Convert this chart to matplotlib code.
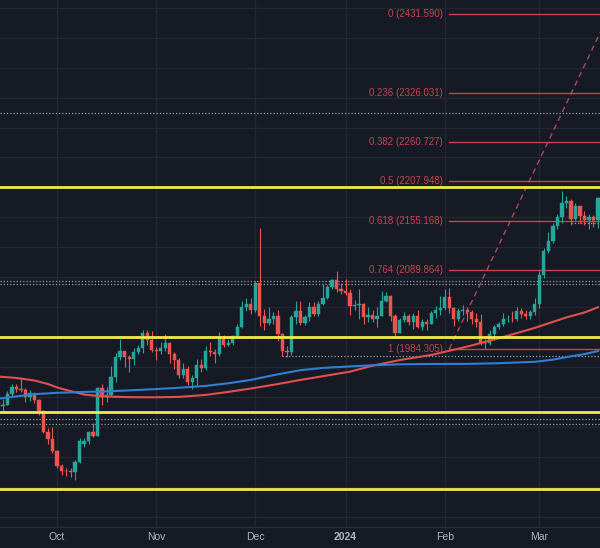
import matplotlib
matplotlib.use("Agg")
import matplotlib.pyplot as plt
import numpy as np
import pandas as pd
from matplotlib.transforms import blended_transform_factory

# ---------------- data (XAU/USD daily) ----------------
opens = [1913, 1908, 1910, 1924, 1934, 1931, 1930, 1920, 1925, 1916, 1901, 1874, 1864,
         1848, 1828, 1822, 1821, 1820, 1833, 1857, 1861, 1874, 1868, 1932, 1920, 1923, 1947,
         1974, 1981, 1973, 1971, 1980, 1985, 2006, 1996,
         1983, 1982, 1985, 1992, 1977, 1969, 1950, 1958, 1940, 1946, 1963, 1959, 1981, 1980,
         1978, 1999, 1990, 1992, 2002, 2014, 2041, 2044,
         2036, 2072, 2029, 2019, 2025, 2028, 2004, 1982, 1980, 2027, 2035, 2019, 2027, 2040,
         2031, 2045, 2053, 2067, 2077, 2065,
         2062, 2059, 2042, 2043, 2045, 2027, 2030, 2024, 2029, 2049, 2055, 2028, 2006, 2023,
         2029, 2021, 2029, 2014, 2020, 2018, 2032, 2037,
         2039, 2054, 2039, 2025, 2035, 2036, 2034, 2024, 2020, 1992, 1992, 2004, 2013, 2017,
         2024, 2025, 2024, 2035, 2031, 2029, 2034,
         2044, 2083, 2115, 2128, 2148, 2160, 2179, 2182, 2158, 2175, 2162, 2156, 2160, 2157]
highs = [1915, 1917, 1928, 1937, 1937, 1947, 1932, 1930, 1926, 1917, 1903, 1879, 1880,
         1849, 1831, 1826, 1825, 1836, 1865, 1866, 1875, 1885, 1933, 1937, 1933, 1962, 1979,
         1997, 1982, 1976, 1985, 1990, 2009, 2009, 2008,
         1987, 1993, 2004, 1993, 1980, 1972, 1965, 1962, 1950, 1971, 1971, 1988, 1993, 1984,
         2007, 2003, 1997, 2003, 2018, 2048, 2052, 2052,
         2075, 2146, 2038, 2040, 2034, 2036, 2006, 1988, 2030, 2048, 2048, 2030, 2047, 2047,
         2048, 2071, 2070, 2078, 2088, 2073,
         2078, 2064, 2050, 2064, 2046, 2040, 2037, 2040, 2062, 2060, 2057, 2031, 2026, 2034,
         2031, 2033, 2037, 2024, 2024, 2035, 2042, 2055,
         2065, 2066, 2040, 2039, 2043, 2041, 2037, 2032, 2031, 1998, 2009, 2016, 2021, 2032,
         2030, 2035, 2041, 2039, 2037, 2037, 2052,
         2088, 2119, 2141, 2153, 2165, 2195, 2189, 2184, 2179, 2175, 2168, 2164, 2163, 2187]
lows = [1905, 1901, 1909, 1921, 1927, 1927, 1913, 1915, 1912, 1896, 1872, 1858, 1846,
        1826, 1816, 1815, 1813, 1810, 1832, 1853, 1858, 1867, 1868, 1909, 1913, 1921, 1940,
        1969, 1960, 1954, 1963, 1977, 1979, 1990, 1980,
        1970, 1978, 1982, 1965, 1957, 1945, 1945, 1936, 1931, 1935, 1953, 1956, 1975, 1965,
        1975, 1987, 1988, 1990, 2001, 2012, 2035, 2031,
        2034, 2015, 2010, 2016, 2017, 1995, 1975, 1973, 1976, 2018, 2016, 2016, 2022, 2028,
        2029, 2043, 2051, 2064, 2061, 2058,
        2057, 2030, 2036, 2024, 2017, 2021, 2021, 2013, 2028, 2047, 2022, 2002, 2005, 2021,
        2016, 2011, 2012, 2009, 2010, 2017, 2026, 2030,
        2036, 2032, 2015, 2022, 2030, 2022, 2018, 2013, 1990, 1984, 1990, 1996, 2011, 2015,
        2020, 2020, 2022, 2026, 2025, 2025, 2030,
        2039, 2079, 2112, 2126, 2144, 2153, 2173, 2150, 2156, 2152, 2150, 2145, 2147, 2146]
closes = [1908, 1910, 1924, 1934, 1931, 1930, 1920, 1925, 1916, 1901, 1874, 1864, 1848,
          1828, 1822, 1821, 1820, 1833, 1861, 1861, 1874, 1868, 1932, 1920, 1923, 1947, 1974,
          1981, 1973, 1971, 1980, 1985, 2006, 1996, 1983,
          1982, 1985, 1992, 1977, 1969, 1950, 1958, 1940, 1946, 1963, 1959, 1981, 1980, 1978,
          1999, 1990, 1992, 2002, 2014, 2041, 2044, 2036,
          2072, 2029, 2019, 2025, 2028, 2004, 1982, 1980, 2027, 2035, 2019, 2027, 2040, 2031,
          2045, 2053, 2067, 2077, 2065, 2062,
          2059, 2042, 2043, 2045, 2027, 2030, 2024, 2029, 2049, 2055, 2028, 2006, 2023, 2029,
          2021, 2029, 2014, 2020, 2018, 2032, 2037, 2039,
          2054, 2039, 2025, 2035, 2036, 2034, 2024, 2020, 1992, 1992, 2004, 2013, 2017, 2024,
          2025, 2024, 2035, 2031, 2029, 2034, 2044,
          2083, 2115, 2128, 2148, 2160, 2179, 2182, 2158, 2175, 2162, 2156, 2160, 2157, 2186]

# moving averages at sample dates
ma_dates = ["2023-09-13", "2023-09-19", "2023-09-25", "2023-09-28", "2023-10-02",
            "2023-10-05", "2023-10-10", "2023-10-16", "2023-10-24", "2023-10-31",
            "2023-11-08", "2023-11-16", "2023-11-23", "2023-11-30", "2023-12-08",
            "2023-12-15", "2023-12-22", "2024-01-03", "2024-01-10", "2024-01-18",
            "2024-01-29", "2024-02-08", "2024-02-19", "2024-02-29", "2024-03-06",
            "2024-03-11", "2024-03-15", "2024-03-20"]
ma_red = [1947.5, 1945.6, 1942.2, 1937.5, 1933.0, 1928.0, 1923.5, 1921.0, 1920.0, 1919.8,
          1920.3, 1923.0, 1927.0, 1931.5, 1937.5, 1943.0, 1948.0, 1954.0, 1962.0, 1969.5,
          1976.3, 1987.5, 1998.6, 2012.5, 2020.5, 2026.5, 2033.0, 2040.0]
ma_blue = [1918.0, 1921.0, 1924.0, 1925.0, 1925.8, 1926.3, 1927.0, 1927.5, 1929.0, 1930.5,
           1932.5, 1935.0, 1938.5, 1943.0, 1950.5, 1956.0, 1959.0, 1961.0, 1962.5, 1963.8,
           1964.3, 1964.4, 1965.3, 1967.2, 1970.0, 1973.5, 1977.5, 1981.5]

# horizontal levels
yellow_levels = [2200, 2000, 1900, 1798]
dotted_full = [2300, 2075, 2070.5, 1891, 1884]
dotted_partial_dates = ["2023-12-11", "2024-03-12"]
dotted_partial_levels = [1975, 2152.5]

fib_ratios = ["0", "0.236", "0.382", "0.5", "0.618", "0.764", "1"]
fib_prices = [2431.590, 2326.031, 2260.727, 2207.948, 2155.168, 2089.864, 1984.305]
fib_start_date = "2024-02-02"
trend_dates = ["2024-02-02", "2024-03-20"]
trend_prices = [1984.305, 2400.6]

# ---------------- build trading calendar ----------------
dates = pd.bdate_range("2023-09-13", "2024-03-20")
dates = dates[~dates.isin(pd.to_datetime(["2023-12-25", "2024-01-01"]))]
assert len(dates) == len(opens) == len(highs) == len(lows) == len(closes)
pos = {d: i for i, d in enumerate(dates)}
def P(s):
    return pos[pd.Timestamp(s)]

x = np.arange(len(dates))
o = np.array(opens, float); h = np.array(highs, float)
l = np.array(lows, float); c = np.array(closes, float)

# ---------------- style ----------------
BG = "#161a25"
GRID = "#232733"
UP = "#26a69a"
DN = "#ef5350"
FIB = "#c8424f"
TXT = "#b2b5be"

fig = plt.figure(figsize=(6, 5.48), dpi=100, facecolor=BG)
ax = fig.add_axes([0, 21 / 548, 1, 527 / 548])
ax.set_facecolor(BG)

x0 = P("2023-10-02")
ax.set_xlim(x0 - 12.644, x0 + 120.45)
ax.set_ylim(1746.6, 2450.3)

# grid
for gy in np.arange(1760, 2441, 40):
    ax.axhline(gy, color=GRID, lw=1.0, zorder=0)
month_pos = []
month_lab = []
prev = None
for i, d in enumerate(dates):
    if prev is not None and d.month != prev.month:
        month_pos.append(i)
        month_lab.append(str(d.year) if d.month == 1 else d.strftime("%b"))
    prev = d
for mp in month_pos:
    ax.axvline(mp, color=GRID, lw=1.0, zorder=0)

# dotted lines
for lv in dotted_full:
    ax.axhline(lv, color="#c9c6d0", lw=0.9, ls=(0, (1, 1.6)), alpha=0.75, zorder=1)
for ds, lv in zip(dotted_partial_dates, dotted_partial_levels):
    ax.plot([P(ds), x[-1] + 10], [lv, lv], color="#c9c6d0", lw=0.9,
            ls=(0, (1, 1.6)), alpha=0.75, zorder=1)

# fib extension
fs = P(fib_start_date)
for r, pr in zip(fib_ratios, fib_prices):
    ax.plot([fs - 0.1, x[-1] + 10], [pr, pr], color=FIB, lw=1.0, zorder=2)
    ax.text(fs - 1.4, pr, f"{r} ({pr:.3f})", color=FIB, fontsize=7,
            family="Liberation Sans", ha="right", va="center", zorder=6)
tx1, tx2 = P(trend_dates[0]), P(trend_dates[1])
slope = (trend_prices[1] - trend_prices[0]) / (tx2 - tx1)
xe = x[-1] + 10
ax.plot([tx1, xe], [trend_prices[0], trend_prices[0] + slope * (xe - tx1)],
        color="#c8505f", lw=1.0, ls=(0, (4, 3)), alpha=0.85, zorder=2)

# moving averages
mx = [P(d) for d in ma_dates]
ax.plot(mx, ma_red, color="#e0504f", lw=1.5, zorder=4, solid_joinstyle="round")
ax.plot(mx, ma_blue, color="#2f7fd6", lw=1.5, zorder=4, solid_joinstyle="round")

# candles
up = c >= o
cols = np.where(up, UP, DN)
ax.vlines(x, l, h, colors=cols, lw=0.8, zorder=3)
body_lo = np.minimum(o, c)
body_h = np.maximum(np.abs(c - o), 0.8)
ax.bar(x, body_h, bottom=body_lo, width=0.72, color=cols, edgecolor=cols,
       linewidth=0.3, zorder=3.5)

# yellow support/resistance lines
for lv in yellow_levels:
    ax.axhline(lv, color="#f5e94a", lw=2.0, zorder=5)

# axes cosmetics
for s in ["top", "left", "right"]:
    ax.spines[s].set_visible(False)
ax.spines["bottom"].set_color("#2a2e39")
ax.spines["bottom"].set_linewidth(1.0)
ax.set_xticks([]); ax.set_yticks([])

tr = blended_transform_factory(ax.transData, ax.transAxes)
for mp, lab in zip(month_pos, month_lab):
    ax.text(mp, -10 / 527, lab, transform=tr, color=TXT, fontsize=7.5,
            family="Liberation Sans", ha="center", va="center",
            fontweight="bold" if lab.isdigit() else "normal", clip_on=False)

fig.savefig("out.png", dpi=100, facecolor=BG)
